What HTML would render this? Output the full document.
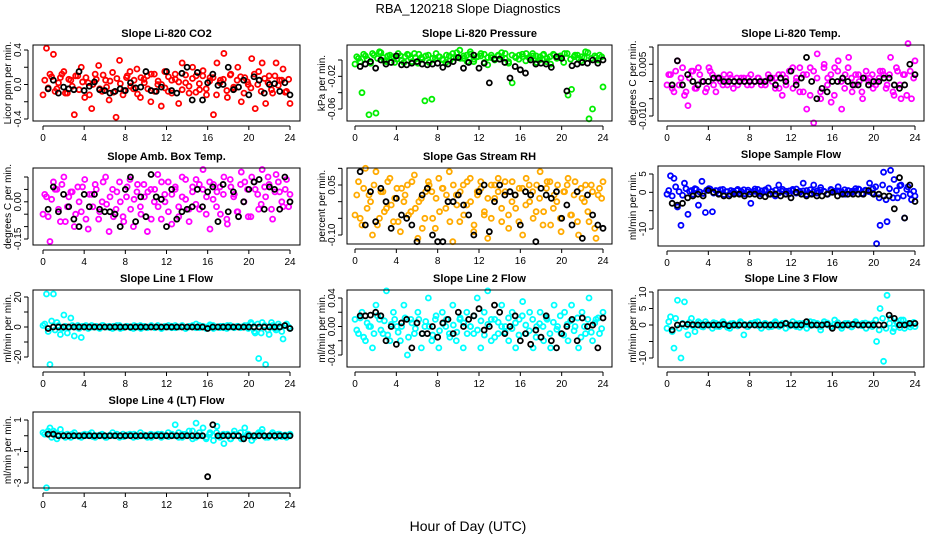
<!DOCTYPE html>
<html><head><meta charset="utf-8"><style>
body{margin:0;background:#fff;}
svg{display:block;font-family:"Liberation Sans",sans-serif;}
</style></head><body>
<svg id="chart" width="936" height="540" viewBox="0 0 936 540">
<text x="468" y="13" text-anchor="middle" font-size="13">RBA_120218  Slope Diagnostics</text>
<text x="468" y="531" text-anchor="middle" font-size="14">Hour of Day (UTC)</text>
</svg>
<script>
// ---- data (colored = all samples, core = additional samples, black = selected samples) ----
const co2Col=[-0.12,0.42,0.12,0.35,-0.05,0.08,0.15,-0.1,0.05,-0.35,0.1,0.2,-0.15,0.02,-0.28,0.12,0.22,-0.08,0.05,-0.18,0.14,-0.38,0.28,-0.12,0.08,0.15,-0.05,0.18,-0.15,0.06,0.1,-0.2,0.12,0.0,-0.25,0.15,-0.08,0.05,0.12,-0.22,0.25,0.02,-0.1,0.2,0.1,-0.06,0.16,-0.12,0.08,-0.35,0.25,0.05,0.36,-0.15,0.12,-0.05,0.2,-0.2,0.08,0.0,0.3,-0.28,0.15,0.25,-0.22,0.1,-0.1,0.25,0.05,0.18,-0.08,-0.22];
const co2Core=[0.05,-0.04,0.09,-0.08,0.02,0.12,-0.1,0.06,-0.02,0.1,-0.06,0.03,0.08,-0.12,0.0,0.06,-0.05,0.11,-0.03,0.04,-0.09,0.07,0.01,-0.07,0.1,-0.02,0.05,-0.11,0.08,0.02,-0.05,0.12,-0.08,0.04,0.0,-0.04,0.09,-0.1,0.06,0.03,-0.06,0.11,-0.02,0.07,-0.09,0.01,0.1,-0.05,0.04,0.08,-0.12,0.02,0.06,-0.07,0.11,-0.03,0.05,0.09,-0.1,0.03,-0.04,0.12,0.0,-0.08,0.07,0.02,-0.06,0.1,-0.01,0.05,-0.09,0.06];
const co2Blk=[-0.05,0.05,-0.1,-0.03,-0.05,-0.06,0.15,-0.07,-0.02,0.03,-0.06,-0.07,-0.1,-0.08,-0.05,-0.07,0.02,-0.04,-0.03,0.15,-0.07,-0.08,-0.03,0.15,-0.07,-0.1,0.13,0.2,-0.18,0.14,-0.18,0.02,0.12,-0.01,0.0,0.2,-0.06,-0.03,0.05,-0.12,0.09,0.05,-0.1,0.0,0.01,-0.08,0.02,-0.12];
const presCol=[-0.005,0.002,-0.04,0.005,-0.067,0.008,-0.065,0.01,0.003,-0.002,0.006,0.004,0.001,0.005,-0.003,0.007,0.002,0.008,-0.004,0.003,-0.05,0.006,-0.048,0.002,0.004,0.001,-0.003,0.005,0.008,0.003,0.012,0.002,0.006,0.01,-0.002,0.004,0.005,0.007,-0.006,0.003,0.002,0.006,0.004,0.008,-0.004,-0.028,0.003,0.006,0.004,0.008,0.002,0.005,-0.003,0.004,0.007,0.002,-0.005,0.006,0.004,0.003,0.008,-0.043,-0.036,0.006,0.002,0.004,0.01,-0.072,-0.06,0.003,0.006,-0.033];
const presCore=[0.004,-0.002,0.007,0.001,-0.004,0.006,0.002,0.009,-0.001,0.005,0.003,-0.003,0.008,0.0,0.004,0.006,-0.002,0.003,0.007,0.001,0.005,-0.003,0.002,0.008,0.004,0.0,0.006,-0.001,0.003,0.009,0.002,0.005,-0.002,0.007,0.001,0.004,0.008,-0.003,0.003,0.006,0.0,0.005,0.009,0.002,-0.002,0.006,0.004,0.001,0.007,-0.001,0.003,0.008,0.005,0.0,0.006,-0.002,0.004,0.007,0.002,0.005,-0.003,0.008,0.001,0.004,0.006,-0.001,0.003,0.009,0.002,0.005,0.0,0.004];
const presBlk=[-0.008,-0.005,-0.002,-0.01,0.0,-0.005,-0.003,0.005,-0.006,-0.006,-0.004,-0.002,-0.005,-0.006,-0.005,-0.004,-0.009,-0.005,-0.002,0.003,-0.01,-0.003,0.006,-0.01,-0.004,-0.028,0.001,0.001,-0.003,-0.022,-0.008,-0.012,-0.016,0.0,-0.005,-0.004,-0.005,-0.009,0.004,0.002,-0.038,-0.007,-0.005,-0.003,-0.004,0.0,-0.004,0.0];
const tempCol=[-0.001,0.002,-0.003,0.006,0.001,-0.004,-0.007,0.003,-0.002,0.004,0.0,-0.003,0.004,0.002,-0.003,0.001,-0.001,0.0,0.002,-0.002,0.001,0.0,0.001,-0.001,0.002,0.0,0.001,-0.001,0.0,0.002,0.001,-0.002,0.002,-0.004,0.001,0.003,0.004,0.0,-0.003,0.002,-0.008,0.004,-0.012,0.008,-0.005,0.005,0.001,-0.006,0.004,0.006,-0.008,0.002,0.007,-0.003,0.002,0.0,-0.005,0.003,0.001,-0.002,0.0,0.003,0.002,-0.001,0.007,-0.004,0.003,-0.005,0.002,0.011,-0.005,0.006];
const tempCore=[0.002,-0.002,0.003,-0.001,0.004,-0.003,0.001,0.003,-0.002,0.002,0.0,-0.002,0.003,-0.001,0.001,0.0,0.002,-0.001,0.001,0.0,-0.001,0.001,0.0,0.001,-0.001,0.0,0.001,0.0,-0.001,0.001,0.0,0.001,-0.002,0.002,-0.001,0.003,-0.002,0.001,0.004,-0.003,0.002,-0.004,0.003,0.001,-0.003,0.004,-0.001,0.002,-0.004,0.003,0.0,-0.002,0.004,0.001,-0.001,0.002,-0.003,0.001,0.0,0.002,-0.001,0.001,0.003,-0.002,0.002,-0.003,0.004,-0.001,0.002,-0.004,0.003,0.001];
const tempBlk=[-0.001,0.006,-0.001,0.002,0.0,-0.001,0.0,0.0,0.001,0.001,0.0,0.0,0.0,0.0,0.0,0.0,0.0,0.0,0.0,0.001,-0.001,0.001,0.0,0.003,-0.001,0.001,0.007,0.0,-0.005,-0.002,-0.003,0.0,0.0,0.001,0.0,-0.001,-0.001,0.001,-0.001,0.0,0.0,0.001,0.001,-0.001,-0.002,-0.001,0.005,0.002];
const ambCol=[-0.05,0.02,-0.16,0.08,0.05,-0.08,0.1,-0.02,0.04,-0.1,0.06,-0.04,0.09,-0.11,0.03,0.07,-0.07,0.0,0.1,-0.12,0.05,-0.03,0.08,-0.06,0.02,0.09,-0.1,0.04,-0.02,0.07,-0.12,0.05,0.0,0.11,-0.07,0.03,0.08,-0.09,0.05,-0.02,0.1,0.01,-0.08,0.06,0.09,-0.03,0.13,0.02,-0.11,0.07,0.04,-0.05,0.1,-0.09,0.06,0.03,-0.04,0.12,0.08,-0.06,0.1,0.05,-0.03,0.13,0.02,0.07,-0.07,0.11,0.04,-0.02,0.09,0.03];
const ambCore=[0.03,-0.06,0.01,0.05,-0.03,0.07,-0.08,0.02,0.04,-0.05,0.0,0.06,-0.07,0.03,-0.02,0.05,-0.04,0.08,-0.01,0.02,-0.06,0.04,0.0,-0.08,0.06,-0.03,0.01,0.07,-0.05,0.02,0.04,-0.07,0.05,-0.02,0.08,0.0,-0.04,0.03,0.06,-0.06,0.02,0.09,-0.03,0.04,-0.01,0.07,0.05,-0.05,0.08,0.01,-0.02,0.06,0.03,-0.07,0.09,0.02,-0.04,0.07,0.0,0.05,-0.06,0.08,0.03,-0.01,0.06,0.1,-0.03,0.04,0.08,0.0,0.05,-0.02];
const ambBlk=[-0.03,0.06,-0.04,0.03,-0.02,-0.07,-0.1,0.03,-0.02,0.03,-0.03,-0.04,-0.04,-0.05,-0.1,0.05,0.1,-0.08,0.02,-0.06,0.11,0.02,0.01,-0.1,0.05,-0.07,-0.04,-0.03,-0.02,0.05,-0.02,0.04,0.06,-0.08,0.07,-0.04,0.04,-0.06,0.0,0.05,0.08,0.09,-0.03,0.06,0.05,-0.03,0.1,0.0];
const rhCol=[-0.04,0.06,-0.07,0.1,0.02,-0.1,0.09,-0.05,0.03,-0.02,0.07,-0.06,0.04,-0.09,0.0,0.05,-0.03,0.08,-0.11,0.01,-0.05,0.06,0.03,-0.08,0.07,0.04,-0.02,0.09,-0.12,0.02,-0.06,0.05,-0.01,0.07,-0.09,0.03,0.06,-0.04,-0.11,0.05,0.01,0.07,-0.06,0.03,-0.08,0.06,-0.02,0.04,-0.1,0.07,0.0,-0.05,0.05,0.09,-0.03,0.06,-0.07,0.02,0.05,-0.09,0.03,0.07,-0.04,0.06,-0.1,0.01,0.05,-0.06,0.03,-0.11,0.04,0.06];
const rhCore=[0.02,-0.05,0.04,-0.02,0.0,0.05,-0.07,0.03,-0.03,0.06,-0.01,0.01,-0.06,0.04,0.02,-0.04,0.06,-0.02,0.0,-0.08,0.03,0.05,-0.05,0.01,-0.03,0.04,0.02,-0.06,0.05,-0.01,0.03,-0.04,0.06,0.0,-0.07,0.02,0.04,-0.03,0.01,-0.05,0.05,0.03,-0.02,0.06,-0.04,0.0,0.02,-0.06,0.04,-0.01,0.05,0.03,-0.03,0.01,-0.07,0.04,0.06,-0.02,0.0,-0.05,0.03,0.05,-0.04,0.02,-0.06,0.04,0.0,-0.03,0.05,-0.08,0.02,0.01];
const rhBlk=[0.09,-0.07,0.03,-0.06,0.04,0.0,-0.08,0.01,-0.04,-0.05,-0.07,-0.12,0.02,0.04,-0.1,-0.12,-0.12,0.0,0.0,0.02,-0.01,-0.04,-0.1,0.03,0.05,-0.09,0.0,0.05,0.02,0.03,0.02,-0.07,0.03,0.02,-0.12,0.04,0.02,0.01,0.03,-0.05,-0.01,-0.07,0.03,-0.11,0.02,-0.04,-0.07,-0.08];
const flowCol=[-0.5,4.5,3.8,-4,-9,2.5,-6,0.5,1,-3.5,3,-5.5,1,-5.3,0.5,-0.3,0.8,0.2,-0.5,0.3,0.5,-0.2,0.7,0.1,-3,0.3,0.8,-0.4,0.5,1.2,0.2,-1,2,0.3,-0.5,0.4,0.8,-0.2,0.3,2.5,0.5,-0.3,2,0.4,1.3,0.2,-0.5,0.6,0.3,1.5,0.2,-0.5,0.4,0.3,1,0.8,-0.3,0.5,2.5,1,-14,-9,5.5,-8,6,3.5,-1.5,2,-7,1.5,-2,-1];
const flowCore=[0.5,-1,1.5,0.2,-0.8,1,0.3,-0.5,0.8,0.1,-0.3,0.6,0.9,-0.2,0.4,0.7,-0.6,0.2,0.5,-0.1,0.8,0.3,-0.4,0.6,0.1,0.9,-0.3,0.4,0.7,-0.5,0.2,0.6,-0.1,0.8,0.3,-0.4,0.5,0.9,0.0,0.4,-0.6,0.7,0.2,-0.2,0.6,0.3,-0.5,0.8,0.1,0.4,-0.3,0.7,0.5,-0.1,0.3,0.9,-0.4,0.6,0.2,-0.2,1.5,-1.5,2,-2,1,-1.5,0.5,1.8,-1,0.8,-0.5,0.3];
const flowBlk=[-3,-3.5,-3,-1.5,-1,-0.5,-1,0.5,0,-0.5,-1,-1,-0.5,-0.5,-1,-0.5,-0.5,-1,-1.2,-0.5,-0.5,-1,-0.5,-1.5,0,-0.5,-1,-0.5,-1,-1,-0.5,0,-1,-0.5,-0.5,-0.5,-0.5,-0.5,0.5,-0.5,-0.5,-1,-1,-4.5,4,-7,2,-2.5];
const l1Col=[1,22,-25,22,3,-5,8,-4,6,-6,1,-7,0.5,-1,1,0,-0.5,1,0,0.5,-1,0,1,-0.5,0.5,0,-1,0.5,1,0,-0.5,0.5,0,1,-1,0.5,0,-0.5,1,0,0.5,-1,0,1,2,-0.5,0.5,0,1.5,-1,0,0.5,-0.5,1,0,-0.5,0.5,0,1,-1,2,-4,-21,3,-25,-5,1,-2,0.5,-8,2,-1];
const l1Core=[2,-3,4,-2,1,-1,0.5,-0.5,1,0,-1,0.5,1,-0.5,0,0.5,-1,1,0,-0.5,0.5,1,-1,0,0.5,-0.5,1,0,-1,0.5,0,1,-0.5,0.5,-1,0,1,0.5,-0.5,0,1,-1,0.5,0,-0.5,1,0,-1,0.5,1,0,-0.5,0.5,-1,1,0,0.5,-0.5,0,1,3,-3,2,-4,1,-2,3,-1,2,-3,1,0];
const l1Blk=[-1,0,0,0,0,0,0,0,0,0,0,0,0,0,0,0,0,0,0,0,0,0,0,0,0,0,0,0,0,0,0,-1,0,0,0,0,0,0,0,0,0,0,0,0,0,0,1,-1];
const l2Col=[0.01,-0.01,0.02,-0.02,0.0,-0.03,0.03,0.01,-0.01,0.05,-0.02,0.02,0.0,-0.02,0.03,-0.04,0.01,-0.01,0.02,-0.03,0.0,0.04,-0.02,0.01,-0.03,0.02,0.0,-0.01,0.03,-0.02,0.01,-0.03,0.02,0.0,-0.01,0.04,-0.03,0.02,0.05,-0.02,0.01,-0.01,0.03,0.0,-0.02,0.02,-0.03,0.01,0.035,-0.01,0.02,-0.03,0.0,0.02,-0.02,0.01,-0.03,0.03,0.0,-0.01,0.02,-0.02,0.03,0.0,-0.03,0.02,-0.01,0.04,-0.02,0.01,-0.01,0.02];
const l2Core=[-0.005,0.012,-0.015,0.005,0.0,-0.01,0.015,-0.005,0.008,-0.012,0.003,0.01,-0.008,0.0,0.012,-0.015,0.005,-0.003,0.01,-0.01,0.007,0.0,-0.012,0.015,-0.006,0.004,0.01,-0.015,0.002,-0.008,0.012,0.005,-0.01,0.0,0.015,-0.005,0.008,-0.012,0.003,0.01,-0.015,0.006,0.0,-0.008,0.012,-0.003,0.005,-0.012,0.015,0.002,-0.006,0.01,-0.015,0.004,0.0,0.012,-0.01,0.006,-0.004,0.015,-0.012,0.003,0.008,-0.006,0.012,-0.015,0.0,0.01,-0.008,0.005,0.012,-0.003];
const l2Blk=[0.015,0.015,0.016,0.02,0.015,-0.02,0.0,-0.025,0.005,0.01,-0.03,0.005,-0.01,-0.01,0.0,-0.015,0.005,0.01,-0.01,0.02,0.0,0.01,0.015,0.025,-0.005,0.0,0.03,0.02,-0.01,0.0,0.015,-0.02,-0.01,-0.025,-0.005,-0.015,0.015,-0.02,-0.03,-0.01,0.0,0.01,-0.02,0.012,0.0,0.002,-0.03,0.012];
const l3Col=[-1,2.5,-7,7.5,-10,7,-3,2,-2,1,-0.5,1,0,-1,0.5,-0.5,1,0,-1,0.5,0,1,-3,-0.5,0.5,0,1,-1,0.5,0,-0.5,1,0,0.5,-1,0,1,-0.5,0.5,0,-1,1,0,0.5,-1.5,1,0,-0.5,1.5,0,-1,0.5,0,-0.5,1,0,0.5,-1,0,0.5,-5,5,-11,9,2,-1,0.5,1.5,-1,0.5,0,-0.5];
const l3Core=[1,-2,2,-1,0.5,-0.5,0.8,-0.3,0.2,0.6,-0.6,0.3,0,0.7,-0.4,0.2,0.5,-0.7,0.4,0,-0.3,0.6,0.2,-0.5,0.3,0.8,-0.2,0,0.5,-0.6,0.3,0.7,-0.4,0.1,0.6,-0.3,0,0.4,-0.7,0.5,0.2,-0.2,0.8,0,-0.5,0.3,0.6,-0.4,0.2,0.7,-0.3,0,0.5,-0.6,0.4,0.1,-0.2,0.6,0.3,-0.5,1.5,-1.5,2,-1,0.5,-2,1,-0.8,1.5,0.2,-0.6,0.8];
const l3Blk=[-1.5,0,0.3,0.2,0.1,0,0,0,0,0,0.2,-0.2,0,0,0,0,0,0,0,0,0,0,0.5,0,0,0,1,0,0,0,0.2,-1,0,0,0,0.2,0,0,0,0,0,0,3,2,0,0,0.5,0.5];
const l4Col=[0.2,-3.3,0.5,0.3,-0.2,0.4,0,0.1,-0.1,0.2,0,-0.1,0.1,0,0.2,-0.1,0,0.1,-0.1,0,0.2,0,-0.1,0.1,0,0.1,-0.1,0,0.2,0,-0.1,0.1,0,0.1,-0.1,0,0.2,0,0.7,-0.1,0.1,0,0.3,-0.2,0.8,0,0.5,-0.1,0.2,-0.3,0.6,0,-0.5,0.1,-0.2,0.3,0,-0.2,0.5,0.1,-0.3,0,0.2,0.4,-0.1,0,0.2,-0.1,0.1,0,-0.1,0.1];
const l4Core=[0.1,0.3,-0.1,0.2,0,0.1,-0.1,0,0.1,0,-0.05,0.05,0,0.1,-0.05,0,0.05,0,-0.1,0.05,0,0.1,0,-0.05,0.05,0,0.1,-0.05,0,0.05,0,-0.1,0.05,0,0.1,0,-0.05,0.1,0,0.2,-0.1,0.1,0,0.3,-0.1,0.2,0,-0.2,0.1,0,0.2,-0.1,0.1,0,-0.2,0.1,0,0.2,-0.1,0.1,0,-0.1,0.1,0.2,0,-0.1,0.1,0,0.1,-0.05,0.05,0];
const l4Blk=[0.1,0.1,0,0,0,0,0,0,0,0,0,0,0,0,0,0,0,0,0,0,0,0,0,0,0,0,0,0,0,0,0,-2.6,0.7,0,0,0,0,0,-0.2,0,0,0,0,0,0,0,0,0];
const xTicks=[0,4,8,12,16,20,24];

// ---- layout config ----
const panels=[
 {id:'co2',title:'Slope Li-820 CO2',ylab:'Licor ppm per min.',col:'#ff0000',c:co2Col,k:co2Core,b:co2Blk,bx:[33,300],by:[45,121],x0:43,x1:290,v:[0.4,-0.4],py:[50,119],ticks:[0.4,0.2,0,-0.2,-0.4],labs:['0.4','','0.0','','-0.4']},
 {id:'pressure',title:'Slope Li-820 Pressure',ylab:'kPa per min.',col:'#00ee00',c:presCol,k:presCore,b:presBlk,bx:[347,612],by:[45,121],x0:355,x1:603,v:[0,-0.06],py:[60,109],ticks:[0,-0.02,-0.04,-0.06],labs:['','-0.02','','-0.06']},
 {id:'temp',title:'Slope Li-820 Temp.',ylab:'degrees C per min.',col:'#ff00ff',c:tempCol,k:tempCore,b:tempBlk,bx:[658,924],by:[45,121],x0:667,x1:915,v:[0.01,-0.01],py:[47,116],ticks:[0.01,0.005,0,-0.005,-0.01],labs:['','0.005','','','-0.010']},
 {id:'amb',title:'Slope Amb. Box Temp.',ylab:'degrees C per min.',col:'#ff00ff',c:ambCol,k:ambCore,b:ambBlk,bx:[33,300],by:[168,245],x0:43,x1:290,v:[0.1,-0.15],py:[177,239],ticks:[0.1,0.05,0,-0.05,-0.1,-0.15],labs:['','','0.00','','','-0.15']},
 {id:'rh',title:'Slope Gas Stream RH',ylab:'percent per min.',col:'#ffaa00',c:rhCol,k:rhCore,b:rhBlk,bx:[347,612],by:[168,244],x0:355,x1:603,v:[0.05,-0.1],py:[185,235],ticks:[0.1,0.05,0,-0.05,-0.1],labs:['','0.05','','','-0.10']},
 {id:'sample-flow',title:'Slope Sample Flow',ylab:'ml/min per min.',col:'#0000ff',c:flowCol,k:flowCore,b:flowBlk,bx:[658,924],by:[166,246],x0:667,x1:915,v:[5,-10],py:[174,229],ticks:[5,0,-5,-10],labs:['5','0','','-10']},
 {id:'line1',title:'Slope Line 1 Flow',ylab:'ml/min per min.',col:'#00ffff',c:l1Col,k:l1Core,b:l1Blk,bx:[33,300],by:[290,367],x0:43,x1:290,v:[20,-20],py:[297,357],ticks:[20,10,0,-10,-20],labs:['20','','0','','-20']},
 {id:'line2',title:'Slope Line 2 Flow',ylab:'ml/min per min.',col:'#00ffff',c:l2Col,k:l2Core,b:l2Blk,bx:[347,612],by:[290,367],x0:355,x1:603,v:[0.04,-0.04],py:[298,355],ticks:[0.04,0.02,0,-0.02,-0.04],labs:['0.04','','0.00','','-0.04']},
 {id:'line3',title:'Slope Line 3 Flow',ylab:'ml/min per min.',col:'#00ffff',c:l3Col,k:l3Core,b:l3Blk,bx:[658,924],by:[290,367],x0:667,x1:915,v:[10,-10],py:[292,358],ticks:[10,5,0,-5,-10],labs:['10','5','0','','-10']},
 {id:'line4',title:'Slope Line 4 (LT) Flow',ylab:'ml/min per min.',col:'#00ffff',c:l4Col,k:l4Core,b:l4Blk,bx:[33,300],by:[412,488],x0:43,x1:290,v:[1,-3],py:[420,483],ticks:[1,0,-1,-2,-3],labs:['1','','-1','','-3']}
];
const NS='http://www.w3.org/2000/svg';
const svg=document.getElementById('chart');
function mk(tag,attrs,parent){const e=document.createElementNS(NS,tag);for(const k in attrs)e.setAttribute(k,attrs[k]);(parent||svg).appendChild(e);return e;}
panels.forEach(p=>{
  const g=mk('g',{});
  
  
  const xs=h=>p.x0+(h/24)*(p.x1-p.x0);
  const ys=v=>p.py[0]+(v-p.v[0])/(p.v[1]-p.v[0])*(p.py[1]-p.py[0]);
  const cx=(p.bx[0]+p.bx[1])/2;
  const t=mk('text',{x:cx,y:p.by[0]-8,'text-anchor':'middle','font-size':11,'font-weight':'bold'},g);t.textContent=p.title;
  
  
  const yl=mk('text',{x:0,y:0,'text-anchor':'middle','font-size':10,transform:`translate(${p.bx[0]-22},${(p.by[0]+p.by[1])/2}) rotate(-90)`},g);yl.textContent=p.ylab;
  
  
  const pts=mk('g',{},g);
  
  
  p.c.forEach((v,i)=>{const c=mk('circle',{cx:xs(i*24/(p.c.length-1)),cy:ys(v),r:2.5,fill:'none',stroke:p.col,'stroke-width':1.8},pts);
    
    });
  p.k.forEach((v,i)=>{const c=mk('circle',{cx:xs(0.17+i*23.7/(p.k.length-1)),cy:ys(v),r:2.5,fill:'none',stroke:p.col,'stroke-width':1.8},pts);
    
    });
  p.b.forEach((v,i)=>{const c=mk('circle',{cx:xs(0.5+i*(23.5/(p.b.length-1))),cy:ys(v),r:2.5,fill:'none',stroke:'#000','stroke-width':1.8},pts);
    
    });
  const box=mk('rect',{x:p.bx[0],y:p.by[0],width:p.bx[1]-p.bx[0],height:p.by[1]-p.by[0],fill:'none',stroke:'#000','stroke-width':1},g);
  
  
  const xa=mk('g',{},g);
  
  
  mk('line',{x1:xs(0),x2:xs(24),y1:p.by[1]+5,y2:p.by[1]+5,stroke:'#000'},xa);
  xTicks.forEach(h=>{mk('line',{x1:xs(h),x2:xs(h),y1:p.by[1]+5,y2:p.by[1]+9,stroke:'#000'},xa);
    const tl=mk('text',{x:xs(h),y:p.by[1]+20,'text-anchor':'middle','font-size':10},xa);tl.textContent=h;
    
    });
  const ya=mk('g',{},g);
  
  
  const yt=p.ticks.map(ys);
  mk('line',{x1:p.bx[0]-5,x2:p.bx[0]-5,y1:Math.min(...yt),y2:Math.max(...yt),stroke:'#000'},ya);
  p.ticks.forEach((v,i)=>{const y=ys(v);mk('line',{x1:p.bx[0]-9,x2:p.bx[0]-5,y1:y,y2:y,stroke:'#000'},ya);
    if(p.labs[i]){const tl=mk('text',{x:0,y:0,'text-anchor':'middle','font-size':10,transform:`translate(${p.bx[0]-12},${y}) rotate(-90)`},ya);tl.textContent=p.labs[i];
      
      }});
});
</script>
</body></html>
